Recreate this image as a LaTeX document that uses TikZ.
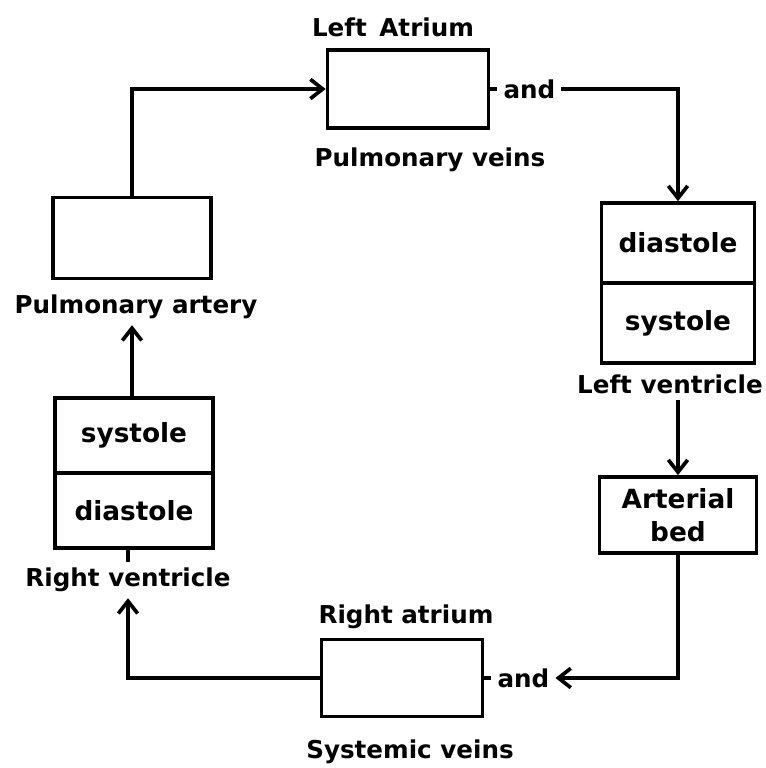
\documentclass[tikz,border=0pt]{standalone}
\usepackage{fontspec}
\setmainfont{DejaVu Sans}
\usetikzlibrary{arrows.meta,positioning,calc}

\begin{document}
\begin{tikzpicture}[x=0.02cm, y=-0.02cm,
	box/.style={draw, line width=2.1pt, inner sep=0pt, font=\bfseries\fontsize{15}{19}\selectfont},
	lbl/.style={font=\bfseries\fontsize{14}{17}\selectfont},
	flow/.style={line width=2.1pt, -{Straight Barb[length=7pt, width=11pt, line width=2.1pt]}}]
		\useasboundingbox (0,0) rectangle (765,768);
		% boxes
		\node[box, minimum width=3.16cm, minimum height=1.62cm] (pa) at (132,238) {};
		\node[box, minimum width=3.22cm, minimum height=1.56cm] (la) at (408,89) {};
		\node[box, minimum width=3.06cm, minimum height=1.6cm] (lvd) at (678,243) {diastole};
		\node[box, minimum width=3.06cm, minimum height=1.6cm] (lvs) at (678,323) {systole};
		\node[box, minimum width=3.14cm, minimum height=1.52cm, align=center] (bed) at (678,515) {Arterial\\bed};
		\node[box, minimum width=3.22cm, minimum height=1.54cm] (ra) at (402,678) {};
		\node[box, minimum width=3.16cm, minimum height=1.5cm] (rvs) at (134,435.5) {systole};
		\node[box, minimum width=3.16cm, minimum height=1.5cm] (rvd) at (134,510.5) {diastole};
		% labels
		\node[lbl] (latxt) at (393,27) {Left\, Atrium};
		\node[lbl] (pvtxt) at (430,160) {Pulmonary veins};
		\node[lbl, right=4pt of la] (and1) {and};
		\node[lbl] (lvtxt) at (670,384) {Left ventricle};
		\node[lbl] (ratxt) at (406,617) {Right atrium};
		\node[lbl, right=4pt of ra] (and2) {and};
		\node[lbl] (svtxt) at (410,752) {Systemic veins};
		\node[lbl] (rvtxt) at (128,580) {Right ventricle};
		\node[lbl] (patxt) at (136,307) {Pulmonary artery};
		% connectors
		\draw[flow] (pa.north) |- (la.west);
		\draw[line width=2.1pt] (la.east) -- (and1.west);
		\draw[flow] (and1.east) -| (lvd.north);
		\draw[flow] (lvtxt.south -| bed.north) -- (bed.north);
		\draw[flow] (bed.south) |- (and2.east);
		\draw[line width=2.1pt] (ra.east) -- (and2.west);
		\draw[flow] (ra.west) -| (rvtxt.south);
		\draw[line width=2.1pt] (rvtxt.north |- rvd.south) -- (rvtxt.north);
		\draw[flow] (rvs.north -| pa.north) -- (pa.north |- patxt.south);
	\end{tikzpicture}
\end{document}
